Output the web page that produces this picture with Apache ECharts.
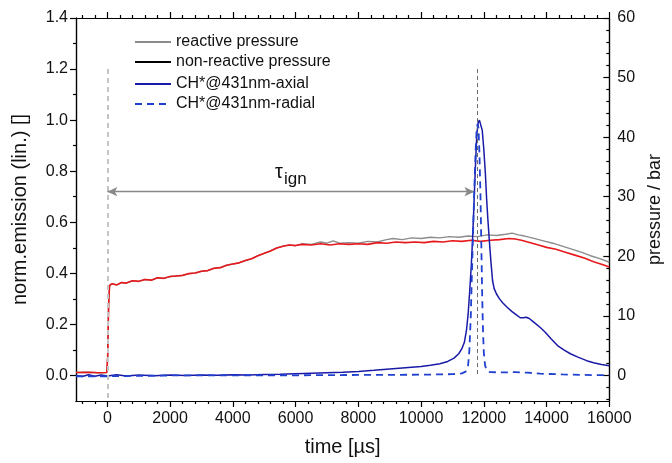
<!DOCTYPE html>
<html><head><meta charset="utf-8">
<script src="https://cdn.jsdelivr.net/npm/echarts@6/dist/echarts.min.js"></script>
<style>html,body{margin:0;padding:0;background:#fff}#c{width:672px;height:463px}</style>
</head><body><div id="c"></div>
<script>
// ---- data (time in µs) ----
const xTicks = [0,2000,4000,6000,8000,10000,12000,14000,16000];
const xMinor = [-800,-400,400,800,1200,1600,2400,2800,3200,3600,4400,4800,5200,5600,6400,6800,7200,7600,8400,8800,9200,9600,10400,10800,11200,11600,12400,12800,13200,13600,14400,14800,15200,15600];
const leftTicks = [0,0.2,0.4,0.6,0.8,1.0,1.2,1.4];
const leftMinor = [0.1,0.3,0.5,0.7,0.9,1.1,1.3];
const rightTicks = [0,10,20,30,40,50,60];
const rightMinor = [-4,-2,2,4,6,8,12,14,16,18,22,24,26,28,32,34,36,38,42,44,46,48,52,54,56,58];

const pressureCommon = [[-1000,0.5],[-600,0.55],[-300,0.45],[-20,0.5],[10,3],[40,12],[70,15.1],[150,15.4],[300,15.2],[450,15.6],[600,15.5],[800,15.9],[1000,15.8],[1200,16.1],[1400,16.0],[1600,16.4],[1800,16.3],[2000,16.6],[2200,16.7],[2400,16.8],[2600,17.1],[2800,17.2],[3000,17.5],[3200,17.6],[3400,18.0],[3600,18.1],[3800,18.5],[4000,18.7],[4200,18.9],[4400,19.3],[4600,19.6],[4800,20.1],[5000,20.5],[5200,20.9],[5400,21.4],[5600,21.7],[5800,21.9],[6000,21.8]];
const nonReactiveTail = [[6200,22.0],[6500,21.9],[6800,22.1],[7100,21.9],[7400,22.1],[7700,22.0],[8000,22.1],[8300,22.0],[8600,22.3],[8900,22.2],[9200,22.4],[9500,22.3],[9800,22.4],[10100,22.3],[10400,22.5],[10700,22.4],[11000,22.6],[11300,22.5],[11600,22.7],[11900,22.5],[12200,22.7],[12500,22.8],[12800,23.0],[13000,22.9],[13200,22.7],[13400,22.4],[13600,22.1],[13800,21.8],[14000,21.5],[14300,21.2],[14600,20.7],[14900,20.2],[15200,19.7],[15500,19.1],[15800,18.6],[16000,18.2]];
const reactiveTail = [[6200,22.1],[6500,22.0],[6800,22.4],[7000,22.2],[7200,22.6],[7400,22.2],[7700,22.3],[8000,22.2],[8300,22.5],[8600,22.4],[8900,22.8],[9100,23.0],[9400,22.8],[9700,23.1],[10000,23.0],[10300,23.2],[10600,23.1],[10900,23.3],[11200,23.2],[11500,23.4],[11800,23.3],[12100,23.6],[12400,23.5],[12700,23.7],[12900,23.9],[13100,23.6],[13300,23.4],[13600,23.0],[13900,22.6],[14200,22.2],[14500,21.7],[14800,21.2],[15100,20.7],[15400,20.1],[15700,19.6],[16000,19.0]];
const axial = [[-1000,0.0],[-800,-0.004],[-600,0.003],[-400,-0.003],[-200,0.002],[0,-0.002],[300,0.003],[600,-0.002],[1000,0.002],[1500,-0.001],[2000,0.002],[2500,0.0],[3000,0.002],[3500,0.001],[4000,0.003],[4500,0.002],[5000,0.004],[5500,0.005],[6000,0.007],[6500,0.009],[7000,0.011],[7500,0.013],[8000,0.016],[8500,0.02],[9000,0.025],[9500,0.03],[10000,0.035],[10300,0.04],[10600,0.046],[10850,0.055],[11050,0.068],[11200,0.085],[11300,0.105],[11380,0.13],[11450,0.18],[11500,0.24],[11550,0.33],[11600,0.43],[11640,0.53],[11680,0.65],[11710,0.75],[11750,0.87],[11780,0.95],[11820,0.99],[11860,1.0],[11910,1.0],[11950,0.96],[12000,0.885],[12050,0.79],[12090,0.69],[12130,0.61],[12175,0.53],[12230,0.44],[12280,0.37],[12330,0.34],[12400,0.32],[12500,0.3],[12600,0.285],[12750,0.266],[12900,0.25],[13050,0.236],[13160,0.226],[13250,0.226],[13350,0.228],[13450,0.223],[13550,0.213],[13650,0.203],[13800,0.188],[13950,0.17],[14150,0.143],[14350,0.117],[14550,0.1],[14760,0.085],[15000,0.072],[15280,0.058],[15500,0.05],[15750,0.043],[16000,0.038]];
const radial = [[-1000,-0.003],[0,-0.003],[2000,0.0],[5000,0.0],[8000,0.002],[10000,0.003],[11000,0.005],[11300,0.008],[11420,0.015],[11500,0.04],[11540,0.1],[11585,0.234],[11620,0.4],[11658,0.56],[11700,0.74],[11740,0.885],[11770,0.96],[11800,0.985],[11830,0.97],[11860,0.87],[11896,0.69],[11925,0.48],[11950,0.3],[11975,0.17],[12000,0.09],[12040,0.04],[12090,0.02],[12200,0.013],[12600,0.012],[13000,0.013],[13400,0.011],[13800,0.007],[14500,0.004],[15200,0.002],[16000,0.001]];
// annotation positions (data coords)
const tIgnStart = 0, tIgnEnd = 11700, tIgnY = 0.72, peakTime = 11800, vTop = 1.2;
const tauLabelPos = [5850, 0.785];

const reactive = pressureCommon.concat(reactiveTail);
const nonReactive = pressureCommon.concat(nonReactiveTail);

const F = 'Liberation Sans, Arial, sans-serif';
const X0 = -1000, X1 = 16000, L0 = -0.1, L1 = 1.4, R1 = 60, R0 = -R1 * 0.1 / 1.4;
const hide = {show:false};
function xAx(pos, ticks, len, labels, extra){
  return Object.assign({type:'value', position:pos, min:X0, max:X1, splitLine:hide,
    axisLine:{show:true, onZero:false, lineStyle:{color:'#000', width:1.2}},
    axisTick:{show:true, inside:false, length:len, customValues:ticks, lineStyle:{color:'#000', width:1.2}},
    axisLabel: labels ? {show:true, customValues:ticks, fontFamily:F, fontSize:16, color:'#111', margin:10, formatter:v=>String(v)} : hide}, extra||{});
}
function yAx(pos, min, max, ticks, len, inside, labels, fmt, extra){
  return Object.assign({type:'value', position:pos, min:min, max:max, splitLine:hide,
    axisLine:{show:true, onZero:false, lineStyle:{color:'#000', width:1.2}},
    axisTick:{show:true, inside:inside, length:len, customValues:ticks, lineStyle:{color:'#000', width:1.2}},
    axisLabel: labels ? {show:true, customValues:ticks, fontFamily:F, fontSize:16, color:'#111', margin:8, formatter:fmt} : hide}, extra||{});
}

const legendBase = {orient:'vertical', left:129, itemWidth:36, itemHeight:10, itemGap:4,
  itemStyle:{opacity:0}, textStyle:{fontFamily:F, fontSize:16, color:'#111'}};

const chart = echarts.init(document.getElementById('c'), null, {renderer:'canvas'});
chart.setOption({
  animation:false,
  backgroundColor:'#fff',
  grid:{left:76, right:49, top:18, bottom:62},
  xAxis:[
    xAx('bottom', xTicks, 6, true, {name:'time [µs]', nameLocation:'middle', nameGap:36, nameTextStyle:{fontFamily:F, fontSize:20, color:'#111'}}),
    xAx('bottom', xMinor, 3, false),
    xAx('top', xTicks, 6, false),
    xAx('top', xMinor, 3, false)
  ],
  yAxis:[
    yAx('left', L0, L1, leftTicks, 6, false, true, v=>v.toFixed(1), {name:'norm.emission (lin.) []', nameLocation:'middle', nameRotate:90, nameGap:46, nameTextStyle:{fontFamily:F, fontSize:20, color:'#111'}}),
    yAx('left', L0, L1, leftMinor, 3, false, false),
    yAx('right', R0, R1, rightTicks, 6, true, true, v=>String(v), {name:'pressure / bar', nameLocation:'middle', nameRotate:90, nameGap:28, nameTextStyle:{fontFamily:F, fontSize:18, color:'#111'}}),
    yAx('right', R0, R1, rightMinor, 3, true, false)
  ],
  legend:[
    Object.assign({}, legendBase, {top:29,
     data:['reactive pressure', {name:'non-reactive pressure', itemStyle:{color:'#000', opacity:0}, lineStyle:{color:'#000'}}]}),
    Object.assign({}, legendBase, {top:71,
     data:['CH*@431nm-axial','CH*@431nm-radial']})
  ],
  series:[
    {name:'reactive pressure', type:'line', xAxisIndex:0, yAxisIndex:2, data:reactive, symbol:'none',
     color:'#8c8c8c', lineStyle:{color:'#8c8c8c', width:1.4}, z:2},
    {name:'non-reactive pressure', type:'line', xAxisIndex:0, yAxisIndex:2, data:nonReactive, symbol:'none',
     color:'#e8191c', lineStyle:{color:'#e8191c', width:1.6}, z:3},
    {name:'CH*@431nm-axial', type:'line', xAxisIndex:0, yAxisIndex:0, data:axial, symbol:'none',
     color:'#1a1aa8', lineStyle:{color:'#1a1aa8', width:1.5}, z:4,
     markLine:{silent:true, symbol:'none', animation:false, label:hide,
       data:[
         [{coord:[tIgnStart, vTop], lineStyle:{color:'#c4c4c4', width:2, type:[5,4]}},{coord:[tIgnStart, L0]}],
         [{coord:[peakTime, vTop], lineStyle:{color:'#6a6a6a', width:1, type:[4,3]}},{coord:[peakTime, 0]}],
         [{coord:[tIgnStart, tIgnY], symbol:'arrow', symbolSize:[7,10], lineStyle:{color:'#888', width:1.3, type:'solid'}},
          {coord:[tIgnEnd, tIgnY], symbol:'arrow', symbolSize:[7,10]}]
       ]},
     markPoint:{silent:true, symbol:'circle', symbolSize:0, animation:false,
       data:[{coord:tauLabelPos, label:{show:true, position:'inside', formatter:'{a|τ}{b|ign}',
         rich:{a:{fontFamily:F, fontSize:20, color:'#111', verticalAlign:'top', lineHeight:26, padding:[0,1,8,0]},
               b:{fontFamily:F, fontSize:17, color:'#111', verticalAlign:'bottom', lineHeight:26, padding:[8,0,0,0]}}}}]}},
    {name:'CH*@431nm-radial', type:'line', xAxisIndex:0, yAxisIndex:0, data:radial, symbol:'none',
     color:'#2040d0', lineStyle:{color:'#2040d0', width:1.8, type:[7,5]}, z:5}
  ]
});
</script></body></html>
